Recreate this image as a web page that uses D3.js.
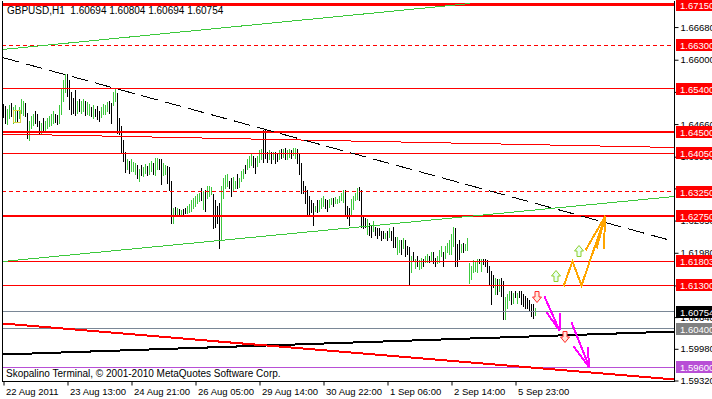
<!DOCTYPE html>
<html>
<head>
<meta charset="utf-8">
<script src="https://cdn.jsdelivr.net/npm/d3@7"></script>
<style>
body {margin: 0; background: #fff;}
svg {display: block;}
text {font-family: "Liberation Sans", Arial, sans-serif; font-size: 9.5px;}
</style>
</head>
<body>
<div class="chart"></div>
<script>

var width = 712,
    height = 399
var frame = {left: 2, right: 674, top: 0, bottom: 381}

// hourly bars, GBPUSD H1 (high / low / 1 = up bar)
var barHigh = [1.6507,1.6503,1.6498,1.6505,1.6509,1.6501,1.6505,1.6496,1.6501,1.6519,
  1.6515,1.6509,1.6490,1.6473,1.6482,1.6488,1.6494,1.6486,1.6473,1.6469,
  1.6478,1.6473,1.6478,1.6482,1.6488,1.6494,1.6488,1.6484,1.6505,1.6540,
  1.6557,1.6571,1.6571,1.6557,1.6532,1.6521,1.6536,1.6515,1.6519,1.6515,
  1.6519,1.6515,1.6511,1.6507,1.6501,1.6505,1.6498,1.6503,1.6494,1.6501,
  1.6507,1.6505,1.6511,1.6515,1.6509,1.6532,1.6542,1.6530,1.6478,1.6463,
  1.6432,1.6407,1.6394,1.6390,1.6394,1.6388,1.6384,1.6380,1.6373,1.6380,
  1.6376,1.6382,1.6378,1.6384,1.6390,1.6384,1.6396,1.6396,1.6394,1.6394,
  1.6384,1.6380,1.6378,1.6376,1.6348,1.6292,1.6294,1.6292,1.6290,1.6288,
  1.6290,1.6292,1.6296,1.6299,1.6307,1.6313,1.6317,1.6321,1.6323,1.6332,
  1.6326,1.6328,1.6336,1.6338,1.6334,1.6321,1.6307,1.6296,1.6301,1.6338,
  1.6353,1.6359,1.6363,1.6348,1.6353,1.6355,1.6348,1.6363,1.6353,1.6369,
  1.6373,1.6380,1.6394,1.6400,1.6405,1.6400,1.6396,1.6400,1.6411,1.6415,
  1.6453,1.6453,1.6407,1.6411,1.6407,1.6407,1.6407,1.6405,1.6411,1.6415,
  1.6415,1.6417,1.6413,1.6415,1.6411,1.6417,1.6417,1.6415,1.6405,1.6384,
  1.6348,1.6338,1.6328,1.6317,1.6307,1.6301,1.6296,1.6307,1.6307,1.6313,
  1.6317,1.6311,1.6307,1.6311,1.6313,1.6313,1.6315,1.6311,1.6317,1.6323,
  1.6328,1.6328,1.6296,1.6292,1.6311,1.6317,1.6323,1.6332,1.6334,1.6328,
  1.6276,1.6271,1.6269,1.6261,1.6255,1.6265,1.6251,1.6249,1.6249,1.6244,
  1.6244,1.6240,1.6244,1.6249,1.6244,1.6251,1.6230,1.6230,1.6224,1.6224,
  1.6228,1.6224,1.6213,1.6209,1.6192,1.6199,1.6186,1.6192,1.6182,1.6188,
  1.6186,1.6192,1.6196,1.6192,1.6199,1.6199,1.6188,1.6192,1.6203,1.6213,
  1.6199,1.6213,1.6219,1.6224,1.6238,1.6251,1.6249,1.6217,1.6224,1.6217,
  1.6219,1.6217,1.6228,1.6176,1.6171,1.6182,1.6178,1.6186,1.6186,1.6186,
  1.6186,1.6186,1.6182,1.6171,1.6161,1.6151,1.6146,1.6144,1.6144,1.6146,
  1.6140,1.6105,1.6113,1.6119,1.6119,1.6115,1.6119,1.6115,1.6119,1.6119,
  1.6113,1.6109,1.6103,1.6099,1.6092,1.6092,1.6082]
var barLow = [1.6480,1.6469,1.6467,1.6478,1.6482,1.6469,1.6473,1.6471,1.6478,1.6490,
  1.6484,1.6482,1.6436,1.6432,1.6457,1.6465,1.6469,1.6461,1.6448,1.6448,
  1.6453,1.6451,1.6457,1.6461,1.6465,1.6469,1.6471,1.6467,1.6469,1.6488,
  1.6515,1.6532,1.6525,1.6498,1.6488,1.6490,1.6484,1.6490,1.6494,1.6490,
  1.6494,1.6484,1.6488,1.6484,1.6482,1.6478,1.6482,1.6476,1.6473,1.6480,
  1.6486,1.6488,1.6494,1.6490,1.6469,1.6505,1.6515,1.6448,1.6446,1.6407,
  1.6390,1.6367,1.6373,1.6365,1.6369,1.6369,1.6363,1.6353,1.6348,1.6359,
  1.6357,1.6365,1.6359,1.6363,1.6369,1.6363,1.6359,1.6373,1.6373,1.6342,
  1.6359,1.6361,1.6344,1.6328,1.6259,1.6259,1.6278,1.6274,1.6274,1.6276,
  1.6278,1.6280,1.6280,1.6282,1.6286,1.6292,1.6296,1.6301,1.6305,1.6307,
  1.6290,1.6286,1.6313,1.6317,1.6321,1.6249,1.6251,1.6261,1.6207,1.6224,
  1.6313,1.6332,1.6338,1.6332,1.6317,1.6328,1.6332,1.6332,1.6334,1.6348,
  1.6353,1.6365,1.6373,1.6376,1.6380,1.6376,1.6365,1.6378,1.6386,1.6394,
  1.6386,1.6396,1.6386,1.6394,1.6384,1.6394,1.6384,1.6390,1.6394,1.6396,
  1.6398,1.6394,1.6394,1.6398,1.6396,1.6401,1.6396,1.6384,1.6363,1.6323,
  1.6323,1.6301,1.6276,1.6276,1.6282,1.6255,1.6284,1.6282,1.6286,1.6292,
  1.6296,1.6292,1.6286,1.6294,1.6299,1.6296,1.6301,1.6301,1.6303,1.6307,
  1.6303,1.6276,1.6271,1.6255,1.6276,1.6290,1.6307,1.6311,1.6307,1.6251,
  1.6249,1.6251,1.6238,1.6234,1.6230,1.6244,1.6234,1.6228,1.6234,1.6224,
  1.6228,1.6228,1.6224,1.6230,1.6224,1.6209,1.6209,1.6196,1.6199,1.6196,
  1.6207,1.6192,1.6196,1.6130,1.6157,1.6182,1.6167,1.6171,1.6165,1.6167,
  1.6171,1.6178,1.6178,1.6178,1.6182,1.6176,1.6171,1.6176,1.6178,1.6192,
  1.6171,1.6188,1.6199,1.6196,1.6196,1.6213,1.6171,1.6171,1.6186,1.6199,
  1.6199,1.6203,1.6203,1.6134,1.6144,1.6157,1.6161,1.6157,1.6176,1.6161,
  1.6174,1.6171,1.6157,1.6130,1.6092,1.6126,1.6113,1.6113,1.6119,1.6109,
  1.6061,1.6061,1.6084,1.6099,1.6092,1.6094,1.6105,1.6094,1.6105,1.6092,
  1.6088,1.6082,1.6084,1.6078,1.6067,1.6063,1.6069]
var barUp = [0,0,1,1,0,1,1,0,1,1, 1,0,0,1,1,1,0,0,0,1, 0,1,1,1,1,1,0,0,1,1,
  1,1,0,0,0,0,0,1,0,1, 1,0,1,1,0,1,0,0,0,1, 1,1,1,0,0,1,1,0,0,0,
  0,0,1,0,1,1,1,0,1,0, 1,1,0,1,1,0,1,1,0,0, 1,1,0,0,0,1,0,1,0,1,
  0,0,1,1,1,1,1,1,1,0, 1,0,1,1,1,0,0,0,0,1, 1,1,1,0,0,1,1,0,1,1,
  1,0,1,1,1,0,0,1,1,1, 0,0,0,1,0,1,0,0,1,0, 1,0,1,1,0,1,1,0,0,0,
  0,0,0,0,0,0,1,0,1,1, 1,0,0,1,1,0,1,1,1,1, 1,0,0,0,1,1,1,1,0,0,
  0,0,1,0,0,1,0,0,0,0, 0,1,0,1,0,0,0,1,1,0, 1,0,0,0,1,0,1,0,1,1,
  0,1,1,0,1,0,0,1,1,1, 0,1,1,1,1,1,0,0,0,1, 0,1,1,1,1,1,1,1,0,1,
  0,0,0,0,0,0,1,0,1,0, 0,1,1,1,0,1,0,1,0,0, 0,0,0,0,0,0,1]

var symbol = "GBPUSD,H1"
var lastOHLC = [1.60694, 1.60804, 1.60694, 1.60754]
var copyright = "Skopalino Terminal, \u00a9 2001-2010 MetaQuotes Software Corp."

var timeTicks = [0, 32, 64, 96, 128, 160, 192, 224, 256]
var timeLabels = ["22 Aug 2011", "23 Aug 13:00", "24 Aug 21:00", "26 Aug 05:00",
  "29 Aug 14:00", "30 Aug 22:00", "1 Sep 06:00", "2 Sep 14:00", "5 Sep 23:00"]
var priceTicks = [1.6668, 1.6600, 1.6533, 1.6466, 1.6398, 1.6332, 1.6265,
  1.6198, 1.6130, 1.6064, 1.5998, 1.5932]

// horizontal levels
var levelPrices = [1.6715, 1.6630, 1.6540, 1.6450, 1.6405, 1.6325, 1.6275, 1.61803, 1.6130]
var levelKind = ["thick3", "dash", "solid", "thick", "solid", "dash", "thick", "solid", "solid"]
var bidPrice = 1.60754
var supportPrice = 1.6040
var targetPrice = 1.5960

// trend lines, [bar index, price]
var greenTop = [[-0.5, 1.66213], [233.5, 1.67171]]
var blackDash = [[-0.5, 1.66046], [335.5, 1.62215]]
var greenLow = [[-0.5, 1.61798], [335.5, 1.63152]]
var redThin = [[-0.5, 1.64453], [335.5, 1.64172]]
var blackThick = [[-0.5, 1.59861], [335.5, 1.60340]]
var redThick = [[-0.5, 1.60507], [335.5, 1.59341]]

// projections
var orangePath = [[280, 1.6128], [284.5, 1.6180], [289, 1.6130], [301, 1.6275]]
var orangeHead = [[291, 1.6203], [296.5, 1.6207], [300, 1.6205]]
var magentaA = [[270.5, 1.6107], [278, 1.6036]]
var magentaAHead = [[271.5, 1.6074], [278.5, 1.6072]]
var magentaB = [[284, 1.6053], [293, 1.5959]]
var magentaBHead = [[285, 1.6003], [292, 1.6001]]
var downSignals = [[266.5, 1.6105], [280.5, 1.6022]]
var upSignals = [[276, 1.6149], [287.5, 1.6201]]
var boxRange = [[5, 1.6494], [8.5, 1.6470]]

var svg = d3.select(".chart")
  .append("svg")
  .attr("width", width)
  .attr("height", height)

var x = d3.scaleLinear()
  .domain([0, 266])
  .range([3.5, 535.5])
var y = d3.scaleLinear()
  .domain([1.5932, 1.6715])
  .range([380.5, 4.5])

svg.append("clipPath").attr("id", "plotclip")
  .append("rect")
  .attr("x", frame.left).attr("y", frame.top)
  .attr("width", frame.right - frame.left).attr("height", frame.bottom - frame.top)

var plot = svg.append("g").attr("clip-path", "url(#plotclip)")

// bars
plot.append("g")
  .attr("class", "bars")
  .selectAll("line")
  .data(barHigh)
  .enter()
  .append("line")
  .attr("x1", function(d, i) { return x(i) })
  .attr("x2", function(d, i) { return x(i) })
  .attr("y1", function(d) { return y(d) })
  .attr("y2", function(d, i) { return y(barLow[i]) + 1 })
  .attr("stroke", function(d, i) { return barUp[i] ? "#3cc83c" : "#000" })
  .attr("stroke-width", 1)
  .attr("shape-rendering", "crispEdges")

// small box near the start
plot.append("rect")
  .attr("x", x(boxRange[0][0]))
  .attr("y", y(boxRange[0][1]))
  .attr("width", x(boxRange[1][0]) - x(boxRange[0][0]))
  .attr("height", y(boxRange[1][1]) - y(boxRange[0][1]))
  .attr("fill", "none")
  .attr("stroke", "#d8d040")
  .attr("shape-rendering", "crispEdges")

var levelStyle = {
  thick3: {w: 3, dash: null},
  thick: {w: 2, dash: null},
  solid: {w: 1, dash: null},
  dash: {w: 1, dash: "4,3"}
}

plot.append("g")
  .selectAll("line")
  .data(levelPrices)
  .enter()
  .append("line")
  .attr("x1", frame.left).attr("x2", frame.right)
  .attr("y1", function(d) { return y(d) })
  .attr("y2", function(d) { return y(d) })
  .attr("stroke", "#ff0000")
  .attr("stroke-width", function(d, i) { return levelStyle[levelKind[i]].w })
  .attr("stroke-dasharray", function(d, i) { return levelStyle[levelKind[i]].dash })
  .attr("shape-rendering", "crispEdges")

function hline(p, color) {
  plot.append("line")
    .attr("x1", frame.left).attr("x2", frame.right)
    .attr("y1", y(p)).attr("y2", y(p))
    .attr("stroke", color)
    .attr("shape-rendering", "crispEdges")
}
hline(bidPrice, "#7a8796")
hline(supportPrice, "#7a8796")
hline(targetPrice, "#b84fd6")

var line = d3.line()
  .x(function(d) { return x(d[0]) })
  .y(function(d) { return y(d[1]) })

function trend(pts, color, w, dash) {
  plot.append("path")
    .attr("d", line(pts))
    .attr("fill", "none")
    .attr("stroke", color)
    .attr("stroke-width", w)
    .attr("stroke-dasharray", dash || null)
    .attr("shape-rendering", "crispEdges")
}
trend(greenTop, "#3cc83c", 1)
trend(greenLow, "#3cc83c", 1)
trend(redThin, "#ff0000", 1)
trend(blackDash, "#000", 1, "17,7")
trend(blackThick, "#000", 2)
trend(redThick, "#ff0000", 2)

// forecast arrows
trend(orangePath, "#ffa500", 2)
orangeHead.forEach(function(p) { trend([orangePath[3], p], "#ffa500", 2) })
trend(magentaA, "#ff00ff", 2)
magentaAHead.forEach(function(p) { trend([magentaA[1], p], "#ff00ff", 2) })
trend(magentaB, "#ff00ff", 2)
magentaBHead.forEach(function(p) { trend([magentaB[1], p], "#ff00ff", 2) })

var downArrow = "M-2,-5.5H2V0H4.5L0,5.5L-4.5,0H-2Z"
var upArrow = "M-2,5.5H2V0H4.5L0,-5.5L-4.5,0H-2Z"

plot.append("g").selectAll("path")
  .data(downSignals)
  .enter()
  .append("path")
  .attr("transform", function(d) { return "translate(" + Math.round(x(d[0])) + "," + Math.round(y(d[1])) + ")" })
  .attr("d", downArrow)
  .attr("fill", "#ffe8dc")
  .attr("stroke", "#ff2a2a")

plot.append("g").selectAll("path")
  .data(upSignals)
  .enter()
  .append("path")
  .attr("transform", function(d) { return "translate(" + Math.round(x(d[0])) + "," + Math.round(y(d[1])) + ")" })
  .attr("d", upArrow)
  .attr("fill", "#eafff4")
  .attr("stroke", "#8ccf2c")

// frame
svg.append("path")
  .attr("d", "M" + frame.left + ",0V" + frame.bottom + "H" + frame.right + "V0")
  .attr("fill", "none")
  .attr("stroke", "#000")
  .attr("transform", "translate(0.5,0.5)")
  .attr("shape-rendering", "crispEdges")

// axes
var yAxis = d3.axisRight(y)
  .tickValues(priceTicks)
  .tickFormat(d3.format(".5f"))
  .tickSize(4)
  .tickPadding(2)
var ya = svg.append("g")
  .attr("transform", "translate(" + (frame.right + 0.5) + ",0)")
  .call(yAxis)
ya.select(".domain").remove()
ya.selectAll("text").attr("fill", "#000").style("font-size", "9.5px").style("font-family", "Liberation Sans, Arial, sans-serif")
ya.selectAll("line").attr("stroke", "#000")

var xAxis = d3.axisBottom(x)
  .tickValues(timeTicks)
  .tickFormat(function(d, i) { return timeLabels[i] })
  .tickSize(4)
  .tickPadding(3)
var xa = svg.append("g")
  .attr("transform", "translate(0," + (frame.bottom + 0.5) + ")")
  .call(xAxis)
xa.select(".domain").remove()
xa.selectAll("text").attr("fill", "#000").attr("text-anchor", "start").attr("dx", 2)
  .style("font-size", "9.5px").style("font-family", "Liberation Sans, Arial, sans-serif")
xa.selectAll("line").attr("stroke", "#000")

// price labels on the right
var fmt = d3.format(".5f")
var tags = levelPrices.map(function(p) { return {p: p, bg: "#ff0000", fg: "#fff"} })
tags.push({p: bidPrice, bg: "#000", fg: "#fff"})
tags.push({p: supportPrice, bg: "#808080", fg: "#fff"})
tags.push({p: targetPrice, bg: "#b84fd6", fg: "#fff"})

var tag = svg.append("g").selectAll("g")
  .data(tags)
  .enter()
  .append("g")
  .attr("transform", function(d) { return "translate(676," + Math.round(y(d.p)) + ")" })
tag.append("rect")
  .attr("x", 0).attr("y", -6)
  .attr("width", 40).attr("height", 12)
  .attr("fill", function(d) { return d.bg })
tag.append("text")
  .attr("x", 4).attr("y", 4)
  .attr("fill", function(d) { return d.fg })
  .text(function(d) { return fmt(d.p) })

// captions
svg.append("text")
  .attr("x", 7).attr("y", 14)
  .style("white-space", "pre")
  .style("font-size", "10px")
  .text(symbol + "  " + lastOHLC.map(fmt).join(" "))

svg.append("text")
  .attr("x", 6).attr("y", 377)
  .style("font-size", "10px")
  .text(copyright)

</script>
</body>
</html>
